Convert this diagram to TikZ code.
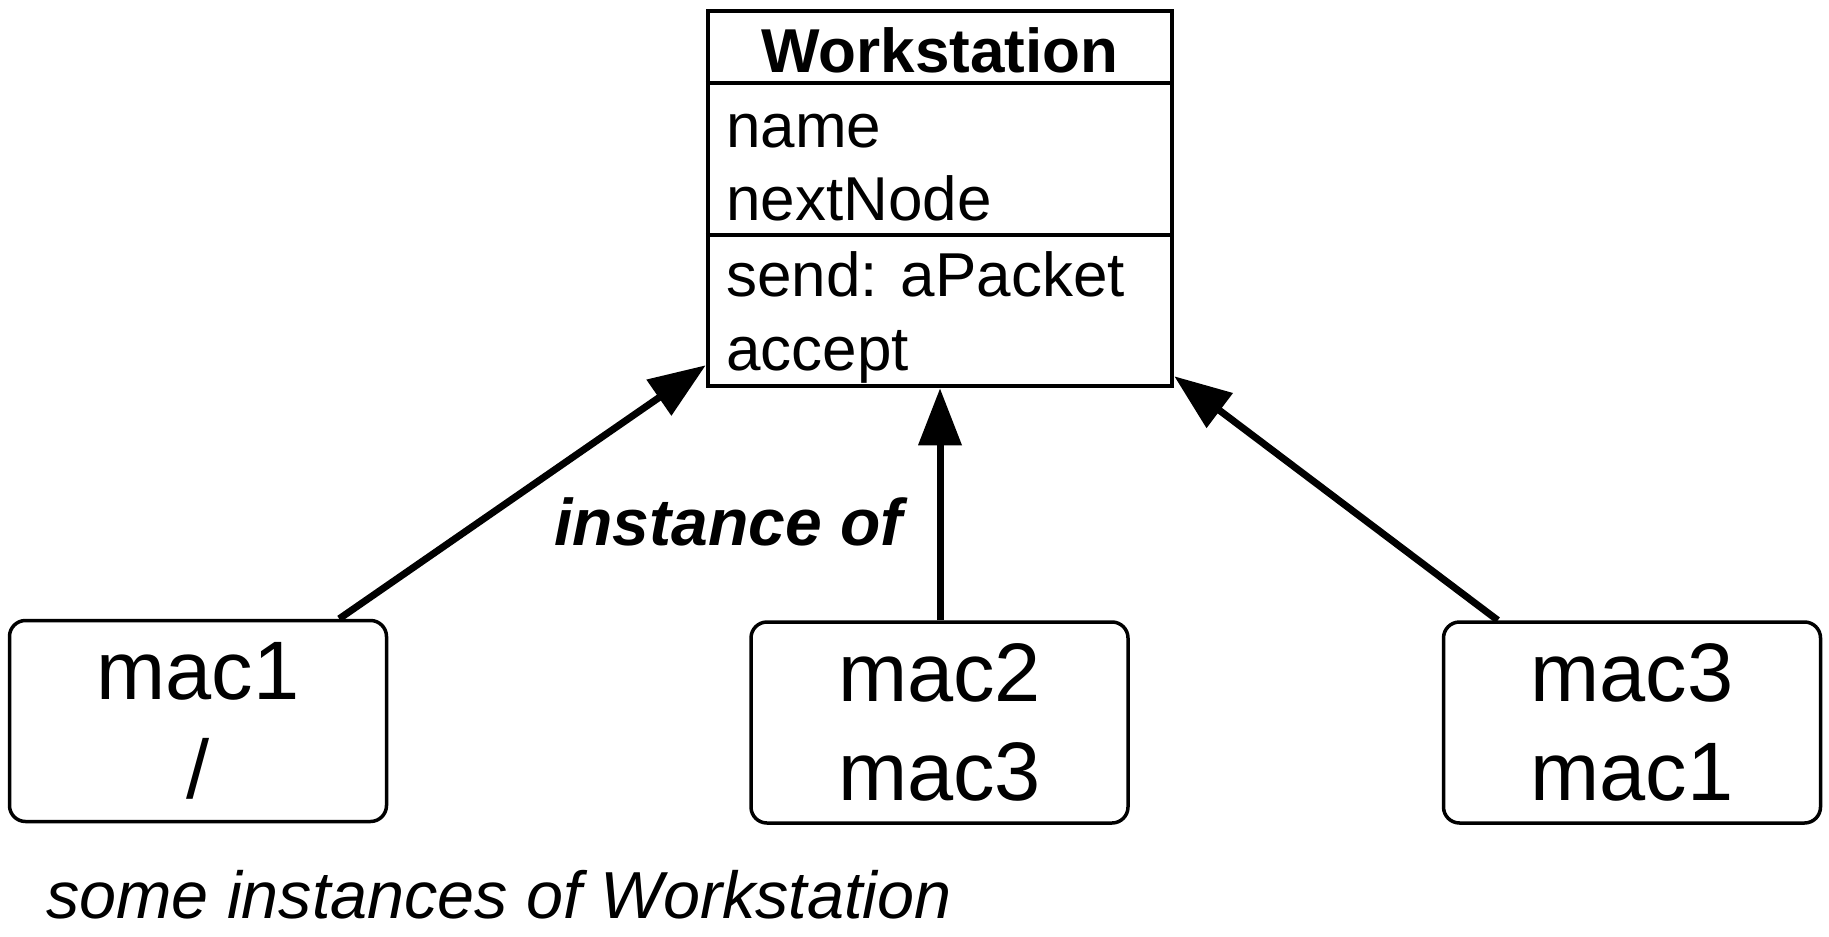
\documentclass[tikz,border=0pt]{standalone}
\usepackage{fontspec}
\setmainfont{Liberation Sans}
\usetikzlibrary{arrows.meta}
\begin{document}
\begin{tikzpicture}[x=1pt,y=-1pt,
  classbox/.style={draw, line width=4.5pt, minimum width=464pt, minimum height=375pt, inner sep=0pt},
  objbox/.style={draw, line width=3.5pt, rounded corners=16pt, minimum width=377pt, minimum height=201pt,
    align=center, inner sep=0pt, font=\fontsize{83}{99}\selectfont},
  attr/.style={anchor=base west, inner sep=0pt, font=\fontsize{62}{74}\selectfont},
  inst/.style={line width=7pt, -{Triangle[length=57pt, width=42pt]}}
]
\useasboundingbox (0,0) rectangle (1829,937);
% class box
\node[classbox] (ws) at (940,198.5) {};
\draw[line width=4.5pt] ([yshift=-74pt]ws.north west) -- ([yshift=-74pt]ws.north east);
\draw[line width=4.5pt] ([yshift=-226pt]ws.north west) -- ([yshift=-226pt]ws.north east);
\node[anchor=base, inner sep=0pt, font=\fontsize{62}{74}\selectfont\bfseries] (title) at (940,72) {Workstation};
\node[attr] (a1) at (726,147) {name};
\node[attr] (a2) at (726,220) {nextNode};
\node[attr] (m1) at (726,296) {send: aPacket};
\node[attr] (m2) at (726,370) {accept};
% instances
\node[objbox] (mac1) at (198,721) {mac1\\/};
\node[objbox] (mac2) at (939.5,722.5) {mac2\\mac3};
\node[objbox] (mac3) at (1632,722.5) {mac3\\mac1};
% connectors
\draw[inst] ([xshift=-49pt]mac1.north east) -- ([yshift=23pt]ws.south west);
\draw[inst] (mac2.north -| ws.south) -- (ws.south);
\draw[inst] ([xshift=56pt]mac3.north west) -- ([yshift=12pt]ws.south east);
% labels
\node[anchor=base west, inner sep=0pt, font=\fontsize{66}{78}\selectfont\bfseries\itshape] (lbl) at (554,545) {instance of};
\node[anchor=base west, inner sep=0pt, font=\fontsize{66.5}{78}\selectfont\itshape] (cap) at (46,918) {some instances of Workstation};
\end{tikzpicture}
\end{document}
